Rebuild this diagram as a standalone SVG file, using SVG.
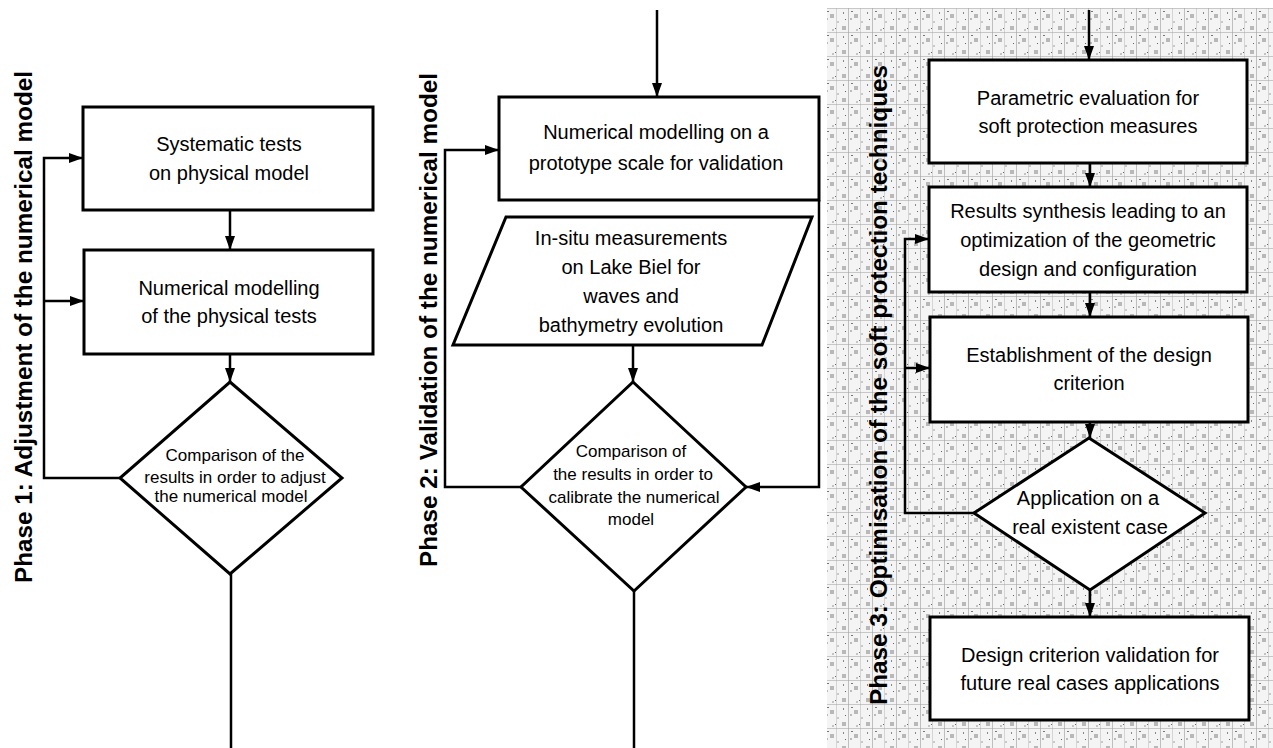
<svg xmlns="http://www.w3.org/2000/svg" width="1273" height="748" viewBox="0 0 1273 748">
  <defs>
    <style>
      .box { fill: #ffffff; stroke: #000000; stroke-width: 3; }
      .conn { fill: none; stroke: #000000; stroke-width: 2.5; }
      .t { font-family: "Liberation Sans", Arial, sans-serif; font-size: 20px; fill: #000000; text-anchor: middle; }
      .ts { font-family: "Liberation Sans", Arial, sans-serif; font-size: 17px; fill: #000000; text-anchor: middle; }
      .lbl { font-family: "Liberation Sans", Arial, sans-serif; font-size: 24px; font-weight: bold; fill: #000000; }
    </style>
    <marker id="arr" viewBox="0 0 14 10" refX="14" refY="5" markerWidth="14" markerHeight="11" markerUnits="userSpaceOnUse" orient="auto">
      <path d="M0,0 L14,5 L0,10 Z" fill="#000000"/>
    </marker>
    <pattern id="tex" width="24" height="24" patternUnits="userSpaceOnUse">
      <rect width="24" height="24" fill="#f4f4f4"/>
      <rect x="2" y="2" width="4" height="4" fill="#b8b8b8"/>
      <rect x="14" y="14" width="4" height="4" fill="#b8b8b8"/>
      <rect x="8" y="0" width="1" height="24" fill="#a8a8a8" opacity="0.7"/>
      <rect x="20" y="0" width="1" height="24" fill="#c0c0c0" opacity="0.6"/>
      <rect x="0" y="8" width="24" height="1" fill="#a8a8a8" opacity="0.6"/>
      <rect x="19" y="4" width="1" height="1" fill="#666666"/>
      <rect x="5" y="19" width="1" height="1" fill="#666666"/>
      <rect x="11" y="11" width="2" height="1" fill="#777777"/>
      <rect x="21" y="21" width="2" height="2" fill="#c8c8c8"/>
      <rect x="3" y="12" width="1" height="2" fill="#888888"/>
      <rect x="16" y="5" width="2" height="2" fill="#c4c4c4"/>
      <rect x="10" y="18" width="2" height="2" fill="#bbbbbb"/>
    </pattern>
  </defs>

  <rect x="0" y="0" width="1273" height="748" fill="#ffffff"/>
  <rect id="phase3-background" x="827" y="8" width="446" height="740" fill="url(#tex)"/>

  <g id="labels">
    <text class="lbl" transform="translate(32,583) rotate(-90)" textLength="512" lengthAdjust="spacingAndGlyphs">Phase 1: Adjustment of the numerical model</text>
    <text class="lbl" transform="translate(437,567) rotate(-90)" textLength="494" lengthAdjust="spacingAndGlyphs">Phase 2: Validation of the numerical model</text>
    <text class="lbl" transform="translate(887,705) rotate(-90)" textLength="640" lengthAdjust="spacingAndGlyphs">Phase 3: Optimisation of the soft protection techniques</text>
  </g>

  <g id="connectors">
    <!-- Phase 1 -->
    <line class="conn" x1="230" y1="210" x2="230" y2="250" marker-end="url(#arr)"/>
    <line class="conn" x1="230" y1="354" x2="230" y2="382" marker-end="url(#arr)"/>
    <line class="conn" x1="231" y1="574" x2="231" y2="748"/>
    <path class="conn" d="M120,478 H44 V158 H83" marker-end="url(#arr)"/>
    <path class="conn" d="M44,301 H84" marker-end="url(#arr)"/>
    <!-- Phase 2 -->
    <line class="conn" x1="657" y1="10" x2="657" y2="97" marker-end="url(#arr)"/>
    <line class="conn" x1="633" y1="345" x2="633" y2="382" marker-end="url(#arr)"/>
    <line class="conn" x1="634" y1="591" x2="634" y2="748"/>
    <path class="conn" d="M521,487 H445 V150 H499" marker-end="url(#arr)"/>
    <path class="conn" d="M819,200 V487 H746" marker-end="url(#arr)"/>
    <!-- Phase 3 -->
    <line class="conn" x1="1089" y1="10" x2="1089" y2="60" marker-end="url(#arr)"/>
    <line class="conn" x1="1090" y1="163" x2="1090" y2="187" marker-end="url(#arr)"/>
    <line class="conn" x1="1090" y1="292" x2="1090" y2="317" marker-end="url(#arr)"/>
    <line class="conn" x1="1090" y1="422" x2="1090" y2="438" marker-end="url(#arr)"/>
    <line class="conn" x1="1090" y1="590" x2="1090" y2="617" marker-end="url(#arr)"/>
    <path class="conn" d="M974,513 H905 V239 H929" marker-end="url(#arr)"/>
    <path class="conn" d="M905,368 H930" marker-end="url(#arr)"/>
  </g>

  <!-- Phase 1 nodes -->
  <g id="p1-systematic-tests">
    <rect class="box" x="83" y="107" width="290" height="103"/>
    <text class="t" x="229" y="151">Systematic tests</text>
    <text class="t" x="229" y="180">on physical model</text>
  </g>
  <g id="p1-numerical-modelling">
    <rect class="box" x="84" y="250" width="289" height="104"/>
    <text class="t" x="229" y="295">Numerical modelling</text>
    <text class="t" x="229" y="323">of  the physical tests</text>
  </g>
  <g id="p1-comparison">
    <polygon class="box" points="230,382 342,478 230,574 120,478"/>
    <text class="ts" x="235" y="461">Comparison of the</text>
    <text class="ts" x="235" y="483">results in order to adjust</text>
    <text class="ts" x="231" y="502">the numerical model</text>
  </g>

  <!-- Phase 2 nodes -->
  <g id="p2-numerical-modelling">
    <rect class="box" x="499" y="97" width="320" height="103"/>
    <text class="t" x="656" y="139">Numerical modelling on a</text>
    <text class="t" x="656" y="170">prototype scale for validation</text>
  </g>
  <g id="p2-in-situ">
    <polygon class="box" points="506,217 812,217 762,345 453,345"/>
    <text class="t" x="631" y="245">In-situ measurements</text>
    <text class="t" x="631" y="274">on Lake Biel  for</text>
    <text class="t" x="631" y="303">waves  and</text>
    <text class="t" x="631" y="332">bathymetry evolution</text>
  </g>
  <g id="p2-comparison">
    <polygon class="box" points="633,382 746,487 634,591 521,487"/>
    <text class="ts" x="631" y="457">Comparison of</text>
    <text class="ts" x="633" y="480">the results in order to</text>
    <text class="ts" x="634" y="503">calibrate the numerical</text>
    <text class="ts" x="631" y="525">model</text>
  </g>

  <!-- Phase 3 nodes -->
  <g id="p3-parametric">
    <rect class="box" x="929" y="60" width="318" height="103"/>
    <text class="t" x="1088" y="105">Parametric evaluation for</text>
    <text class="t" x="1088" y="133">soft protection measures</text>
  </g>
  <g id="p3-synthesis">
    <rect class="box" x="929" y="187" width="318" height="105"/>
    <text class="t" x="1088" y="218">Results synthesis leading to an</text>
    <text class="t" x="1088" y="247">optimization of the geometric</text>
    <text class="t" x="1088" y="276">design and configuration</text>
  </g>
  <g id="p3-establishment">
    <rect class="box" x="930" y="317" width="318" height="105"/>
    <text class="t" x="1089" y="362">Establishment of the design</text>
    <text class="t" x="1089" y="390">criterion</text>
  </g>
  <g id="p3-application">
    <polygon class="box" points="1089,438 1205,513 1090,590 974,513"/>
    <text class="t" x="1088" y="505">Application on a</text>
    <text class="t" x="1090" y="534">real existent case</text>
  </g>
  <g id="p3-validation">
    <rect class="box" x="930" y="617" width="319" height="103"/>
    <text class="t" x="1090" y="662">Design criterion validation for</text>
    <text class="t" x="1090" y="690">future real cases applications</text>
  </g>
</svg>
